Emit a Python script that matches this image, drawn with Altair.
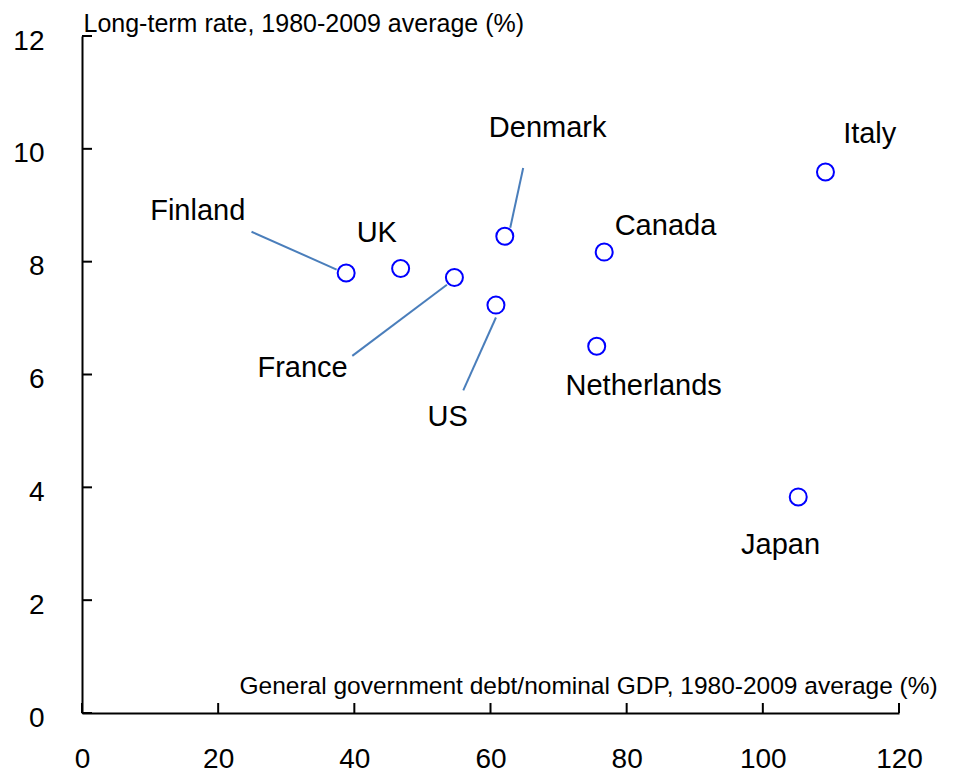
import altair as alt
import pandas as pd

# ---------------- data ----------------
countries = ["Finland", "UK", "France", "Denmark", "US", "Canada", "Netherlands", "Italy", "Japan"]
debt = [38.8, 46.8, 54.7, 62.1, 60.8, 76.7, 75.6, 109.2, 105.2]
rate = [7.80, 7.88, 7.72, 8.45, 7.23, 8.17, 6.50, 9.59, 3.83]

# label anchor (centre x, baseline y) in data units
label_x = [17.0, 43.3, 32.4, 68.4, 53.7, 85.7, 82.5, 115.7, 102.6]
label_y = [8.73, 8.35, 5.96, 10.21, 5.08, 8.48, 5.64, 10.11, 2.81]

# leader lines
leader_country = ["Finland", "France", "Denmark", "US"]
leader_x1 = [24.9, 39.7, 64.8, 56.0]
leader_y1 = [8.53, 6.33, 9.66, 5.72]
leader_x2 = [37.4, 53.6, 62.9, 60.8]
leader_y2 = [7.86, 7.59, 8.60, 7.01]

x_ticks = [0, 20, 40, 60, 80, 100, 120]
y_ticks = [0, 2, 4, 6, 8, 10, 12]

x_title = "General government debt/nominal GDP, 1980-2009 average (%)"
y_title = "Long-term rate, 1980-2009 average (%)"

# ---------------- layout ----------------
W, H = 817, 677
FONT = "Liberation Sans"
TICK_LEN = 10

pts = pd.DataFrame({"country": countries, "debt": debt, "rate": rate})
labs = pd.DataFrame({"country": countries, "lx": label_x, "ly": label_y})
leads = pd.DataFrame({"country": leader_country, "x1": leader_x1, "y1": leader_y1,
                      "x2": leader_x2, "y2": leader_y2})
xt = pd.DataFrame({"v": x_ticks})
yt = pd.DataFrame({"v": y_ticks})

xscale = alt.Scale(domain=[0, 120], nice=False, zero=False)
yscale = alt.Scale(domain=[0, 12], nice=False, zero=False)

x_axis = alt.Axis(
    values=x_ticks, ticks=False, tickSize=0, grid=False,
    domain=True, domainColor="black", domainWidth=2,
    labelFont=FONT, labelFontSize=28, labelColor="black",
    labelBaseline="alphabetic", labelPadding=54,
    labelFlush=False, labelOverlap=False,
    title=x_title, titleFont=FONT, titleFontSize=24.5, titleFontWeight="normal",
    titleColor="black", titleAlign="left", titleBaseline="alphabetic",
    titleAnchor="start", titleX=157, titleY=-20,
)
y_axis = alt.Axis(
    values=y_ticks, ticks=False, tickSize=0, grid=False,
    domain=True, domainColor="black", domainWidth=2,
    labelFont=FONT, labelFontSize=28, labelColor="black",
    labelAlign="right", labelBaseline="alphabetic", labelOffset=13,
    labelPadding=38, labelFlush=False, labelOverlap=False,
    title=y_title, titleFont=FONT, titleFontSize=25, titleFontWeight="normal",
    titleColor="black", titleAngle=0, titleAlign="left", titleBaseline="alphabetic",
    titleAnchor="start", titleX=1, titleY=-5,
)

points_layer = alt.Chart(pts).mark_point(
    shape="circle", filled=False, size=289, strokeWidth=2, color="#0000ff", opacity=1
).encode(
    x=alt.X("debt:Q", scale=xscale, axis=x_axis),
    y=alt.Y("rate:Q", scale=yscale, axis=y_axis),
)

xticks_layer = alt.Chart(xt).mark_rule(color="black", strokeWidth=2).encode(
    x=alt.X("v:Q", scale=xscale, axis=x_axis),
    y=alt.value(H - TICK_LEN),
    y2=alt.value(H),
)
yticks_layer = alt.Chart(yt).mark_rule(color="black", strokeWidth=2).encode(
    y=alt.Y("v:Q", scale=yscale, axis=y_axis),
    x=alt.value(0),
    x2=alt.value(TICK_LEN),
)

leader_layer = alt.Chart(leads).mark_rule(color="#4a7ebb", strokeWidth=2).encode(
    x=alt.X("x1:Q", scale=xscale, axis=x_axis),
    y=alt.Y("y1:Q", scale=yscale, axis=y_axis),
    x2="x2:Q",
    y2="y2:Q",
)

text_layer = alt.Chart(labs).mark_text(
    font=FONT, fontSize=29, color="black", align="center", baseline="alphabetic"
).encode(
    x=alt.X("lx:Q", scale=xscale, axis=x_axis),
    y=alt.Y("ly:Q", scale=yscale, axis=y_axis),
    text="country:N",
)

chart = alt.layer(
    points_layer, xticks_layer, yticks_layer, leader_layer, text_layer
).properties(
    width=W, height=H,
    autosize=alt.AutoSizeParams(type="none"),
    padding={"left": 74, "top": 28, "right": 46, "bottom": 62},
    background="white",
).configure_view(stroke=None)

chart.save("out.html", embed_options={"renderer": "svg", "actions": False})
